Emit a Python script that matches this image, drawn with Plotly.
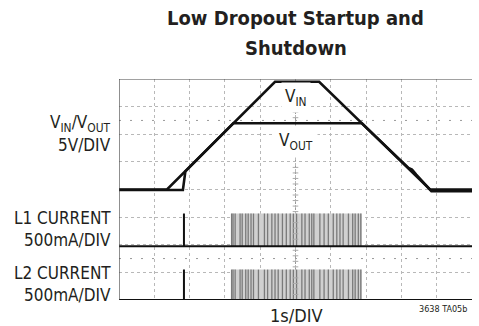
import plotly.graph_objects as go

# scope settings (divisions)
x_divs = 10
y_divs = 8
volts_per_div = 5.0
ma_per_div = 500.0
vin_ground_div = 4.0
l1_ground_div = 1.95
l2_ground_div = 0.0

# VIN / VOUT traces (time in s, volts)
vin_t = [0, 1.36, 4.42, 5.67, 8.81, 10]
vin_v = [0, 0, 19.5, 19.5, 0, 0]

vout_t = [0, 1.81, 1.88, 3.24, 6.88, 8.2, 8.3, 8.42, 8.85, 10]
vout_v = [-0.1, -0.1, 3.3, 12.0, 12.0, 3.9, 3.6, 2.7, -0.3, -0.3]

# inductor currents (mA)
spike_t = 1.84
l1_peak = 590
l2_peak = 550
burst_start = 3.17
burst_end = 6.88
pulse_t = [3.19, 3.23, 3.29, 3.43, 3.49, 3.59, 3.66, 3.74, 3.81, 3.95,
           4.12, 4.21, 4.33, 4.42, 4.51, 4.63, 4.74, 4.85, 4.94, 5.03,
           5.18, 5.27, 5.39, 5.46, 5.52, 5.69, 5.81, 5.93, 6.07, 6.17,
           6.26, 6.35, 6.50, 6.62, 6.69, 6.78, 6.85]

FONT = "Liberation Sans Narrow, DejaVu Sans Condensed, Arial Narrow, sans-serif"
INK = "#231f20"

fig = go.Figure()


def volt(v):
    return [vin_ground_div + x / volts_per_div for x in v]


def amp(ground, vals):
    return [ground + x / ma_per_div for x in vals]


# current bursts: light fill plus individual switching lines
for ground, peak in [(l1_ground_div, l1_peak), (l2_ground_div, l2_peak)]:
    top = amp(ground, [peak])[0]
    fig.add_trace(go.Scatter(
        x=[burst_start, burst_start, burst_end, burst_end, burst_start],
        y=[ground, top, top, ground, ground],
        fill="toself", fillcolor="#d0d0d0", mode="lines",
        line=dict(width=0), hoverinfo="skip"))
    xs, ys = [], []
    for t in pulse_t:
        xs += [t, t, None]
        ys += [ground, top, None]
    fig.add_trace(go.Scatter(x=xs, y=ys, mode="lines",
                             line=dict(color="#7a7a7a", width=1.3),
                             hoverinfo="skip"))
    fig.add_trace(go.Scatter(
        x=[0, spike_t, spike_t, spike_t, x_divs],
        y=amp(ground, [0, 0, peak, 0, 0]),
        mode="lines", line=dict(color="#111", width=2)))

# graticule center ticks
fig.add_trace(go.Scatter(
    x=[x_divs / 2] * 32,
    y=[k / 5 for k in range(1, 40) if k % 5],
    mode="markers", hoverinfo="skip",
    marker=dict(symbol="line-ew", size=4, line=dict(color="#aaa", width=1))))

fig.add_trace(go.Scatter(x=vout_t, y=volt(vout_v), mode="lines",
                         line=dict(color="#111", width=2.6)))
fig.add_trace(go.Scatter(x=vin_t, y=volt(vin_v), mode="lines",
                         line=dict(color="#111", width=2.6)))

shapes = [
    dict(type="line", x0=0, x1=x_divs, y0=y_divs, y1=y_divs,
         line=dict(color="#444", width=1.2)),
    dict(type="line", x0=0, x1=x_divs, y0=0, y1=0,
         line=dict(color="#111", width=2)),
    dict(type="line", x0=0, x1=0, y0=0, y1=y_divs,
         line=dict(color="#444", width=1.2)),
    dict(type="line", x0=x_divs / 2, x1=x_divs / 2, y0=0, y1=y_divs,
         line=dict(color="#999", width=1, dash="dot"), layer="below"),
    dict(type="line", x0=0, x1=x_divs, y0=6.5, y1=6.5,
         line=dict(color="#999", width=1, dash="2px,9px"), layer="below"),
    dict(type="line", x0=0, x1=x_divs, y0=1.5, y1=1.5,
         line=dict(color="#999", width=1, dash="2px,9px"), layer="below"),
]


def side(text, y):
    return dict(text=text, x=-0.017, y=y, xref="paper", yref="paper",
                xanchor="right", yanchor="middle", showarrow=False,
                font=dict(size=17, color=INK, family=FONT))


def title_line(text, y):
    return dict(text="<b>%s</b>" % text, x=0.5, y=y,
                xref="paper", yref="paper", xanchor="center", yanchor="middle",
                showarrow=False, font=dict(size=20, color=INK, family=FONT))


annotations = [
    title_line("Low Dropout Startup and", 1.276),
    title_line("Shutdown", 1.14),
    side("V<sub>IN</sub>/V<sub>OUT</sub>", 0.80),
    side("5V/DIV", 0.70),
    side("L1 CURRENT", 0.371),
    side("500mA/DIV", 0.271),
    side("L2 CURRENT", 0.122),
    side("500mA/DIV", 0.023),
    dict(text="1s/DIV", x=0.504, y=-0.068, xref="paper", yref="paper",
         xanchor="center", yanchor="middle", showarrow=False,
         font=dict(size=18, color=INK, family=FONT)),
    dict(text="3638 TA05b", x=0.992, y=-0.041, xref="paper", yref="paper",
         xanchor="right", yanchor="middle", showarrow=False,
         font=dict(size=9, color=INK, family=FONT)),
    dict(text="V<sub>IN</sub>", x=5, y=7.32, showarrow=False,
         bgcolor="white", borderpad=3,
         font=dict(size=17, color=INK, family=FONT)),
    dict(text="V<sub>OUT</sub>", x=5, y=5.72, showarrow=False,
         bgcolor="white", borderpad=4,
         font=dict(size=17, color=INK, family=FONT)),
]

axis = dict(showgrid=True, gridcolor="#b8b8b8", griddash="dot", gridwidth=1,
            dtick=1, showticklabels=False, zeroline=False, ticks="",
            showline=False, fixedrange=True)

fig.update_layout(
    width=479, height=326,
    margin=dict(l=119, r=7, t=79, b=26),
    paper_bgcolor="white", plot_bgcolor="white",
    showlegend=False,
    xaxis=dict(axis, range=[0, x_divs]),
    yaxis=dict(axis, range=[0, y_divs]),
    shapes=shapes, annotations=annotations,
)

fig.write_html("out.html", config={"displayModeBar": False},
               post_script="document.body.style.margin='0';")
